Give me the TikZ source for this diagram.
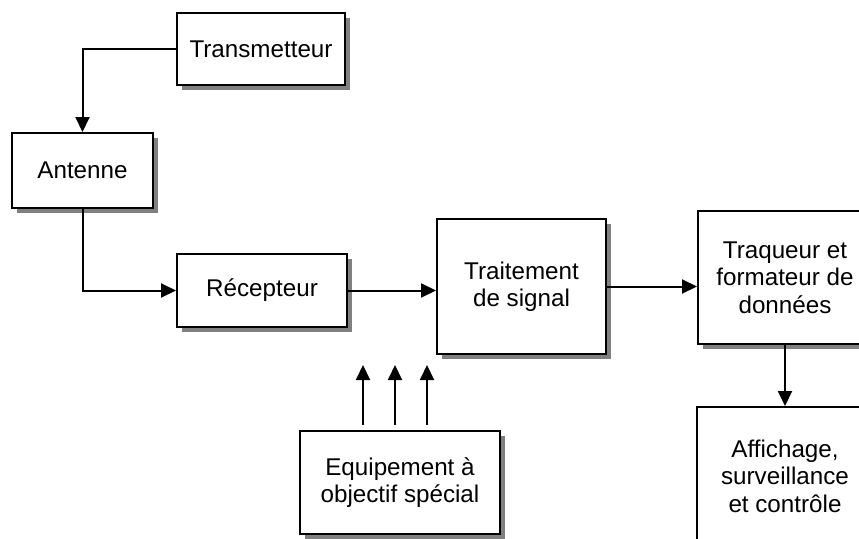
\documentclass[tikz,border=0pt]{standalone}
\usepackage{fontspec}
\setmainfont{Liberation Sans}
\usetikzlibrary{arrows.meta,shadows}
\begin{document}
\begin{tikzpicture}[x=1pt,y=-1pt,
  box/.style={draw=black,line width=2pt,fill=white,align=center,inner sep=0pt,
    font=\fontsize{24.2}{27.5}\selectfont,
    drop shadow={shadow xshift=5pt,shadow yshift=-5pt,fill=black!50,opacity=1}},
  arr/.style={line width=2pt,-{Triangle[length=15pt,width=14pt]}}]
\clip (0,0) rectangle (859,538);
\fill[white] (0,0) rectangle (859,538);
\node[box,minimum width=168pt,minimum height=72pt] (trans) at (261,49) {Transmetteur};
\node[box,minimum width=141pt,minimum height=75pt] (ant) at (82.5,170.5) {Antenne};
\node[box,minimum width=170pt,minimum height=73pt] (rec) at (262,290.5) {Récepteur};
\node[box,minimum width=169pt,minimum height=135pt] (trt) at (521.5,286.5) {Traitement\\de signal};
\node[box,minimum width=174pt,minimum height=133pt] (trq) at (785,277.5) {Traqueur et\\formateur de\\données};
\node[box,minimum width=176pt,minimum height=138pt] (aff) at (785,476) {Affichage,\\surveillance\\et contrôle};
\node[box,minimum width=200pt,minimum height=103pt] (eq) at (400,482.5) {Equipement à\\objectif spécial};
\coordinate (s1) at (363,425); \coordinate (e1) at (363,365);
\coordinate (s2) at (395,425); \coordinate (e2) at (395,365);
\coordinate (s3) at (427,425); \coordinate (e3) at (427,365);
\draw[arr] (trans.west) -| (ant.north);
\draw[arr] (ant.south) |- (rec.west);
\draw[arr] (rec.east) -- (rec.east -| trt.west);
\draw[arr] (trt.east) -- (trt.east -| trq.west);
\draw[arr] (trq.south) -- (aff.north);
\draw[arr] (s1) -- (e1);
\draw[arr] (s2) -- (e2);
\draw[arr] (s3) -- (e3);
\end{tikzpicture}
\end{document}
